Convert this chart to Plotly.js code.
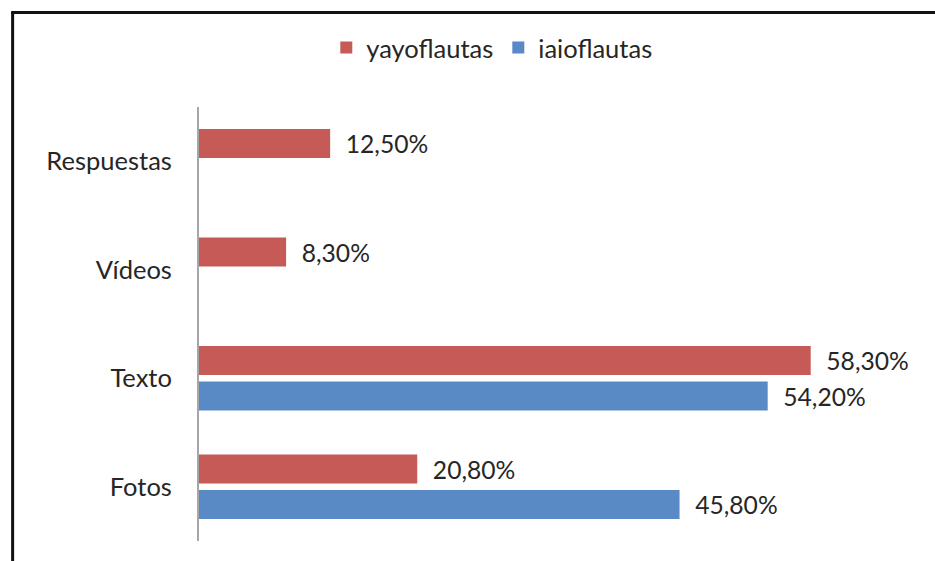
<!DOCTYPE html>
<html>
<head>
<meta charset="utf-8">
<script src="https://cdn.plot.ly/plotly-3.0.1.min.js"></script>
<style>html,body{margin:0;padding:0;background:#fff;}#chart{width:935px;height:561px;}</style>
</head>
<body>
<div id="chart"></div>
<script>
const categories = ['Respuestas', 'Vídeos', 'Texto', 'Fotos'];
const yayoflautas = [12.5, 8.3, 58.3, 20.8];
const iaioflautas = [null, null, 54.2, 45.8];
const seriesNames = ['yayoflautas', 'iaioflautas'];
const colors = ['#C55A56', '#5A8AC5'];

const W = 935, H = 561;
const mL = 199, mR = 53.5, mT = 107, mB = 20;
const plotW = W - mL - mR, plotH = H - mT - mB;
const px2x = px => (px - mL) / plotW;
const py2y = py => (H - mB - py) / plotH;

const font = {family: 'Lato, "Open Sans", sans-serif', size: 25.5, color: '#262626'};
const labelTpl = '\u00a0\u00a0%{x:.2f}%';

const traces = [
  {type: 'bar', orientation: 'h', name: seriesNames[0], y: categories, x: yayoflautas,
   marker: {color: colors[0]}, texttemplate: labelTpl, textposition: 'outside',
   textfont: font, cliponaxis: false, hoverinfo: 'skip'},
  {type: 'bar', orientation: 'h', name: seriesNames[1], y: categories, x: iaioflautas,
   marker: {color: colors[1]}, texttemplate: labelTpl, textposition: 'outside',
   textfont: font, cliponaxis: false, hoverinfo: 'skip'}
];

const layout = {
  width: W, height: H,
  margin: {l: mL, r: mR, t: mT, b: mB, pad: 0},
  paper_bgcolor: '#fff', plot_bgcolor: '#fff',
  font: font,
  separators: ',.',
  barmode: 'group', bargap: 0.342, bargroupgap: 0.188,
  showlegend: true,
  legend: {orientation: 'h', x: px2x(492), xanchor: 'center', y: py2y(48), yanchor: 'middle',
           font: font, traceorder: 'normal'},
  xaxis: {range: [0, 65], showgrid: false, zeroline: false, showticklabels: false, showline: false, ticks: ''},
  yaxis: {autorange: 'reversed', type: 'category', showgrid: false, zeroline: false,
          showline: true, linecolor: '#a6a6a6', linewidth: 2, ticks: '', ticklabelstandoff: 20,
          tickfont: font},
  shapes: [
    {type: 'line', xref: 'paper', yref: 'paper', x0: px2x(12.5), x1: px2x(12.5), y0: py2y(12), y1: py2y(600),
     line: {color: '#111', width: 3}},
    {type: 'line', xref: 'paper', yref: 'paper', x0: px2x(11), x1: px2x(1000), y0: py2y(12.5), y1: py2y(12.5),
     line: {color: '#111', width: 3}}
  ]
};

Plotly.newPlot('chart', traces, layout, {displayModeBar: false, staticPlot: true});
</script>
</body>
</html>
